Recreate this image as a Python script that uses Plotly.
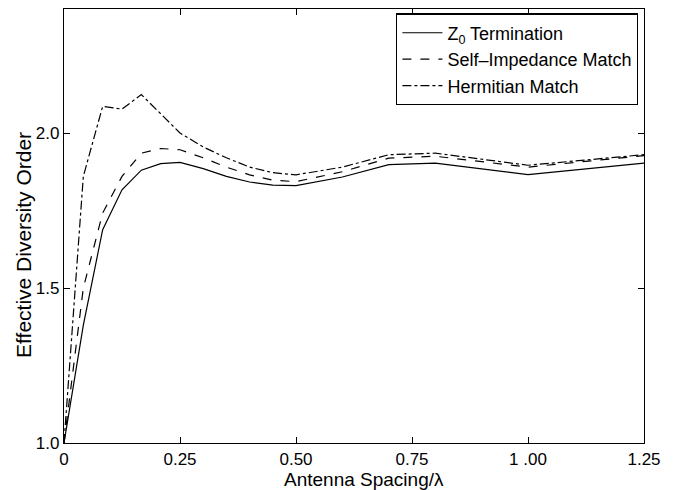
import plotly.graph_objects as go

spacing = [0, 1/24, 1/12, 1/8, 1/6, 5/24, 1/4, 0.3, 0.35, 0.4, 0.45, 0.5, 0.6, 0.7, 0.8, 1.0, 1.25]
z0_term = [1.0, 1.38, 1.688, 1.817, 1.880, 1.901, 1.905, 1.885, 1.860, 1.842, 1.832, 1.830, 1.858, 1.898, 1.903, 1.866, 1.903]
self_match = [1.0, 1.50, 1.742, 1.860, 1.935, 1.950, 1.946, 1.920, 1.890, 1.865, 1.848, 1.843, 1.875, 1.919, 1.925, 1.890, 1.927]
herm_match = [1.0, 1.86, 2.086, 2.077, 2.124, 2.062, 2.000, 1.955, 1.920, 1.890, 1.872, 1.865, 1.890, 1.930, 1.935, 1.896, 1.930]

series_names = ["Z<sub>0</sub> Termination", "Self\u2013Impedance Match", "Hermitian Match"]
x_ticks = [0, 0.25, 0.5, 0.75, 1.0, 1.25]
x_ticklabels = ["0", "0.25", "0.50", "0.75", "1 .00", "1.25"]
y_ticks = [1.0, 1.5, 2.0]
y_ticklabels = ["1.0", "1.5", "2.0"]
x_title = "Antenna Spacing/\u03bb"
y_title = "Effective Diversity Order"

FONT = "Liberation Sans, Arial, Helvetica, sans-serif"

fig = go.Figure()
for ys, name, dash in zip([z0_term, self_match, herm_match], series_names, ["solid", "dash", "dashdot"]):
    fig.add_trace(go.Scatter(x=spacing, y=ys, mode="lines", name=name,
                             line=dict(color="black", width=1.2, dash=dash)))

axis_common = dict(showline=True, linecolor="black", linewidth=1.2, mirror="ticks",
                   ticks="inside", ticklen=6, tickcolor="black", tickwidth=1,
                   showgrid=False, zeroline=False, automargin=False,
                   tickfont=dict(family=FONT, size=17, color="black"))

fig.update_xaxes(range=[0, 1.25], tickvals=x_ticks, ticktext=x_ticklabels, **axis_common)
fig.update_yaxes(range=[1.0, 2.4], tickvals=y_ticks, ticktext=y_ticklabels, **axis_common)

fig.add_annotation(text=x_title, xref="paper", yref="paper", x=0.517, y=-0.083,
                   xanchor="center", yanchor="middle", showarrow=False,
                   font=dict(family=FONT, size=19, color="black"))
fig.add_annotation(text=y_title, xref="paper", yref="paper", x=-0.071, y=0.456,
                   xanchor="center", yanchor="middle", showarrow=False, textangle=-90,
                   font=dict(family=FONT, size=21, color="black"))

fig.update_layout(
    width=678, height=490,
    margin=dict(l=64, r=34, t=9, b=47),
    paper_bgcolor="white", plot_bgcolor="white",
    font=dict(family=FONT, size=17, color="black"),
    showlegend=True,
    legend=dict(x=0.99, y=0.99, xanchor="right", yanchor="top",
                bordercolor="black", borderwidth=1.2, bgcolor="white",
                font=dict(family=FONT, size=18, color="black"),
                tracegroupgap=0, itemwidth=40),
)

fig.write_html("out.html", config={"displayModeBar": False},
               post_script="document.body.style.margin='0';")
